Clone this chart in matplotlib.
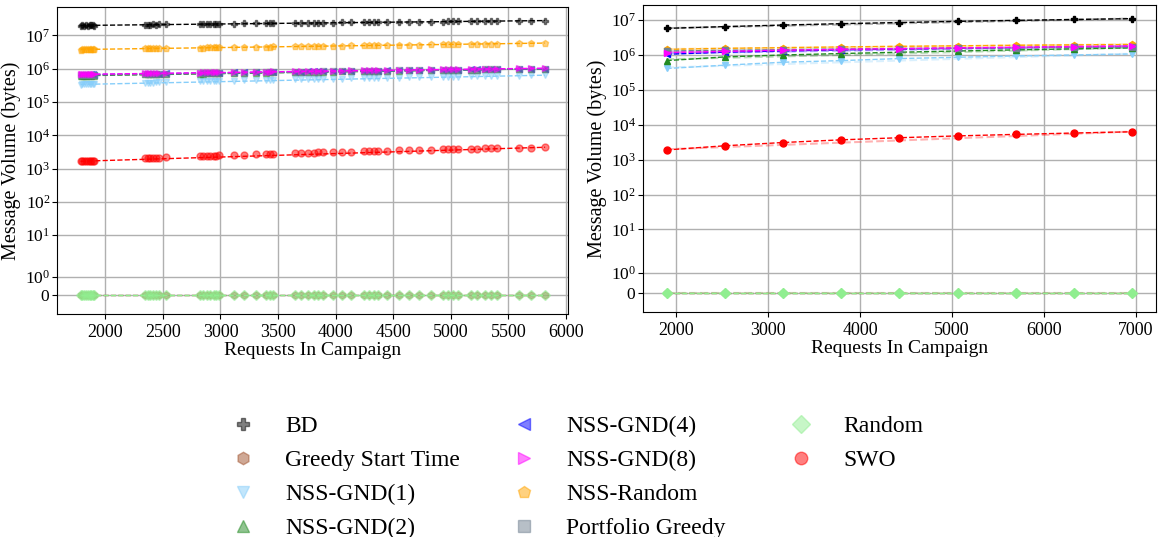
"""
Message volume per campaign size, two panels on a symlog axis
"""

import numpy as np
import matplotlib
matplotlib.use('Agg')
import matplotlib.pyplot as plt
from matplotlib.lines import Line2D
from matplotlib.ticker import NullLocator

plt.rcParams['font.family'] = 'serif'
plt.rcParams['font.serif'] = ['Liberation Serif', 'DejaVu Serif']
plt.rcParams['mathtext.fontset'] = 'custom'
plt.rcParams['mathtext.rm'] = 'Liberation Serif'
plt.rcParams['mathtext.it'] = 'Liberation Serif:italic'

# series names, colours, markers (legend order)
names = ['BD', 'Greedy Start Time', 'NSS-GND(1)', 'NSS-GND(2)', 'NSS-GND(4)',
         'NSS-GND(8)', 'NSS-Random', 'Portfolio Greedy', 'Random', 'SWO']
colors = ['black', 'sienna', 'lightskyblue', 'forestgreen', 'blue',
          'magenta', 'orange', 'slategray', 'lightgreen', 'red']
markers = ['P', 'h', 'v', '^', '<', '>', 'p', 's', 'D', 'o']
zorders = [3, 2, 3, 3, 4, 6, 3, 5, 3, 3]

# left panel: every single instance
x_left = [1785, 1800, 1815, 1830, 1850, 1865, 1880, 1895, 1905,
          2345, 2370, 2390, 2410, 2440, 2470, 2530,
          2820, 2850, 2880, 2910, 2940, 2960, 2985,
          3115, 3205, 3310, 3400, 3430, 3460,
          3645, 3700, 3760, 3815, 3850, 3895, 3975, 4060, 4135,
          4250, 4290, 4330, 4370, 4450, 4550, 4640, 4725, 4830, 4930, 4975,
          5020, 5060, 5175, 5230, 5300, 5350, 5405, 5590, 5695, 5820]

bd_left = [19.9, 20.1, 19.8, 20.2, 19.9, 20.3, 20.0, 20.4, 19.9,
           21.1, 21.3, 21.0, 21.4, 21.2, 21.5, 21.4,
           22.2, 21.9, 22.3, 22.0, 22.4, 22.1, 22.5,
           22.6, 22.9, 23.1, 23.3, 23.0, 23.4,
           23.6, 23.9, 23.8, 24.1, 23.9, 24.3, 24.2, 24.6, 24.5,
           24.8, 25.0, 24.9, 25.2, 25.3, 25.5, 25.6, 25.8, 26.1, 26.2, 26.4,
           26.3, 26.6, 26.7, 26.9, 26.8, 27.0, 27.2, 27.5, 27.8, 28.0]  # x1e6
nssr_left = [3.78, 3.81, 3.79, 3.83, 3.80, 3.84, 3.82, 3.86, 3.83,
             4.08, 4.10, 4.07, 4.12, 4.13, 4.15, 4.17,
             4.32, 4.34, 4.35, 4.37, 4.39, 4.41, 4.42,
             4.49, 4.53, 4.59, 4.63, 4.65, 4.66,
             4.76, 4.79, 4.83, 4.85, 4.87, 4.89, 4.94, 4.98, 5.02,
             5.08, 5.10, 5.12, 5.14, 5.18, 5.24, 5.28, 5.33, 5.38, 5.44, 5.46,
             5.48, 5.50, 5.56, 5.59, 5.62, 5.65, 5.68, 5.78, 5.83, 5.90]  # x1e6
gnd8_left = [6.75, 6.80, 6.85, 6.82, 6.88, 6.90, 6.86, 6.93, 6.89,
             7.28, 7.31, 7.33, 7.35, 7.36, 7.40, 7.45,
             7.70, 7.73, 7.76, 7.78, 7.81, 7.83, 7.85,
             7.98, 8.06, 8.15, 8.23, 8.26, 8.29,
             8.45, 8.50, 8.56, 8.61, 8.64, 8.68, 8.75, 8.83, 8.90,
             9.00, 9.03, 9.07, 9.10, 9.18, 9.27, 9.35, 9.43, 9.52, 9.61, 9.65,
             9.69, 9.72, 9.82, 9.87, 9.94, 9.98, 10.03, 10.2, 10.3, 10.4]  # x1e5
gnd4_left = [6.58, 6.62, 6.65, 6.60, 6.70, 6.68, 6.72, 6.74, 6.69,
             7.07, 7.10, 7.12, 7.14, 7.16, 7.19, 7.24,
             7.48, 7.51, 7.54, 7.56, 7.59, 7.61, 7.63,
             7.75, 7.83, 7.92, 8.00, 8.02, 8.05,
             8.21, 8.26, 8.31, 8.36, 8.39, 8.42, 8.50, 8.57, 8.64,
             8.73, 8.77, 8.80, 8.84, 8.91, 9.00, 9.07, 9.15, 9.24, 9.33, 9.37,
             9.40, 9.44, 9.54, 9.59, 9.65, 9.69, 9.74, 9.90, 10.0, 10.1]  # x1e5
gnd2_left = [6.15, 6.22, 6.18, 6.25, 6.21, 6.28, 6.24, 6.30, 6.26,
             6.72, 6.74, 6.76, 6.78, 6.81, 6.84, 6.90,
             7.16, 7.19, 7.22, 7.25, 7.28, 7.30, 7.32,
             7.44, 7.53, 7.63, 7.71, 7.74, 7.77,
             7.94, 8.00, 8.05, 8.10, 8.14, 8.18, 8.26, 8.34, 8.41,
             8.51, 8.55, 8.59, 8.63, 8.70, 8.80, 8.88, 8.97, 9.07, 9.16, 9.20,
             9.24, 9.28, 9.39, 9.44, 9.51, 9.56, 9.61, 9.78, 9.88, 10.0]  # x1e5
pg_left = [6.35, 6.42, 6.38, 6.45, 6.40, 6.47, 6.43, 6.50, 6.46,
           6.88, 6.91, 6.93, 6.95, 6.97, 7.00, 7.05,
           7.30, 7.33, 7.36, 7.38, 7.41, 7.43, 7.45,
           7.58, 7.66, 7.75, 7.83, 7.86, 7.89,
           8.05, 8.10, 8.16, 8.21, 8.24, 8.28, 8.35, 8.43, 8.50,
           8.60, 8.63, 8.67, 8.70, 8.78, 8.86, 8.94, 9.02, 9.11, 9.20, 9.24,
           9.28, 9.32, 9.42, 9.47, 9.54, 9.58, 9.63, 9.80, 9.90, 10.0]  # x1e5
gnd1_left = [3.35, 3.40, 3.38, 3.43, 3.39, 3.45, 3.41, 3.47, 3.44,
             3.81, 3.83, 3.84, 3.86, 3.88, 3.90, 3.95,
             4.16, 4.18, 4.21, 4.23, 4.25, 4.27, 4.29,
             4.38, 4.45, 4.53, 4.59, 4.62, 4.64,
             4.78, 4.82, 4.86, 4.90, 4.93, 4.96, 5.02, 5.09, 5.14,
             5.23, 5.26, 5.29, 5.32, 5.38, 5.45, 5.52, 5.58, 5.66, 5.74, 5.77,
             5.80, 5.83, 5.92, 5.96, 6.01, 6.05, 6.09, 6.23, 6.31, 6.40]  # x1e5
swo_left = [1.66, 1.69, 1.67, 1.71, 1.69, 1.73, 1.71, 1.74, 1.72,
            2.05, 2.07, 2.08, 2.09, 2.11, 2.13, 2.17,
            2.37, 2.39, 2.41, 2.43, 2.45, 2.46, 2.48,
            2.56, 2.63, 2.70, 2.75, 2.77, 2.80,
            2.92, 2.96, 3.00, 3.03, 3.06, 3.09, 3.14, 3.20, 3.25,
            3.32, 3.35, 3.38, 3.41, 3.46, 3.53, 3.59, 3.65, 3.72, 3.78, 3.81,
            3.84, 3.87, 3.95, 3.98, 4.03, 4.06, 4.10, 4.23, 4.30, 4.38]  # x1e3
zero_left = [0] * len(x_left)

# right panel: averaged per campaign size
x_right = [1895, 2528, 3161, 3794, 4428, 5061, 5694, 6328, 6961]
bd_right = [5.8, 6.5, 7.2, 7.9, 8.5, 9.2, 9.8, 10.4, 11.0]            # x1e6
gnd1_right = [4.1, 5.1, 6.2, 6.9, 7.9, 8.6, 9.4, 10.0, 10.7]          # x1e5
gnd2_right = [6.9, 8.8, 10.0, 11.0, 12.0, 13.0, 14.0, 15.0, 16.0]     # x1e5
gnd4_right = [10.5, 12.0, 13.0, 14.0, 14.7, 15.5, 16.2, 17.0, 17.5]   # x1e5
gnd8_right = [11.7, 12.7, 13.7, 14.5, 15.2, 16.0, 16.7, 17.4, 18.0]   # x1e5
nssr_right = [14.5, 15.5, 16.2, 17.0, 17.7, 18.3, 19.0, 19.5, 20.0]   # x1e5
pg_right = [13.0, 13.5, 14.2, 14.8, 15.3, 15.8, 16.2, 16.6, 17.0]     # x1e5
swo_right = [1.9, 2.5, 3.1, 3.7, 4.25, 4.8, 5.3, 5.8, 6.3]             # x1e3
zero_right = [0] * len(x_right)

left = [np.array(bd_left) * 1e6, zero_left, np.array(gnd1_left) * 1e5,
        np.array(gnd2_left) * 1e5, np.array(gnd4_left) * 1e5,
        np.array(gnd8_left) * 1e5, np.array(nssr_left) * 1e6,
        np.array(pg_left) * 1e5, zero_left, np.array(swo_left) * 1e3]
right = [np.array(bd_right) * 1e6, zero_right, np.array(gnd1_right) * 1e5,
         np.array(gnd2_right) * 1e5, np.array(gnd4_right) * 1e5,
         np.array(gnd8_right) * 1e5, np.array(nssr_right) * 1e5,
         np.array(pg_right) * 1e5, zero_right, np.array(swo_right) * 1e3]

yticks = [0, 1, 10, 100, 1e3, 1e4, 1e5, 1e6, 1e7]


def trend(ax, x, y, color, **kw):
    # least squares line through the points
    a, b = np.polyfit(x, y, 1)
    xs = np.array([min(x), max(x)])
    ax.plot(xs, a * xs + b, '--', color=color, **kw)


fig = plt.figure(figsize=(11.58, 5.37), dpi=100)
ax1 = fig.add_axes([0.0495, 0.4153, 0.4413, 0.572])
ax2 = fig.add_axes([0.5555, 0.4190, 0.4425, 0.572])

for ys, c, m, z in zip(left, colors, markers, zorders):
    ax1.plot(x_left, ys, linestyle='none', marker=m, color=c, ms=5,
             alpha=0.5, zorder=z)
    trend(ax1, x_left, ys, c, lw=1, zorder=z)

for ys, c, m, z in zip(right, colors, markers, zorders):
    trend(ax2, x_right, ys, c, lw=1.5, alpha=0.3, zorder=z)
    ax2.plot(x_right, ys, '--', marker=m, color=c, ms=5, lw=1, zorder=z)

for ax, xt in ((ax1, range(2000, 6001, 500)), (ax2, range(2000, 7001, 1000))):
    ax.set_yscale('symlog', linthresh=2)
    ax.set_ylim(bottom=-1)
    ax.set_yticks(yticks)
    ax.yaxis.set_minor_locator(NullLocator())
    ax.set_xticks(list(xt))
    ax.grid(True, color='#b0b0b0', lw=1)
    ax.set_axisbelow(True)
    ax.tick_params(axis='x', labelsize=13)
    ax.tick_params(axis='y', labelsize=12.5, pad=1.5)
    ax.set_xlabel('Requests In Campaign', fontsize=14, labelpad=1)
    ax.set_ylabel('Message Volume (bytes)', fontsize=14.5, labelpad=3)

# legend: one block per column so the columns sit where the original has them
handles = [Line2D([], [], linestyle='none', marker=m, color=c, ms=9, alpha=0.5)
           for c, m in zip(colors, markers)]
for start, stop, xpos in ((0, 4, 0.1891), (4, 8, 0.4318), (8, 10, 0.6710)):
    fig.legend(handles[start:stop], names[start:stop], loc='upper left',
               bbox_to_anchor=(xpos, 0.2264), frameon=False, fontsize=17,
               labelspacing=0.53, borderpad=0, borderaxespad=0)

plt.savefig('out.png')
